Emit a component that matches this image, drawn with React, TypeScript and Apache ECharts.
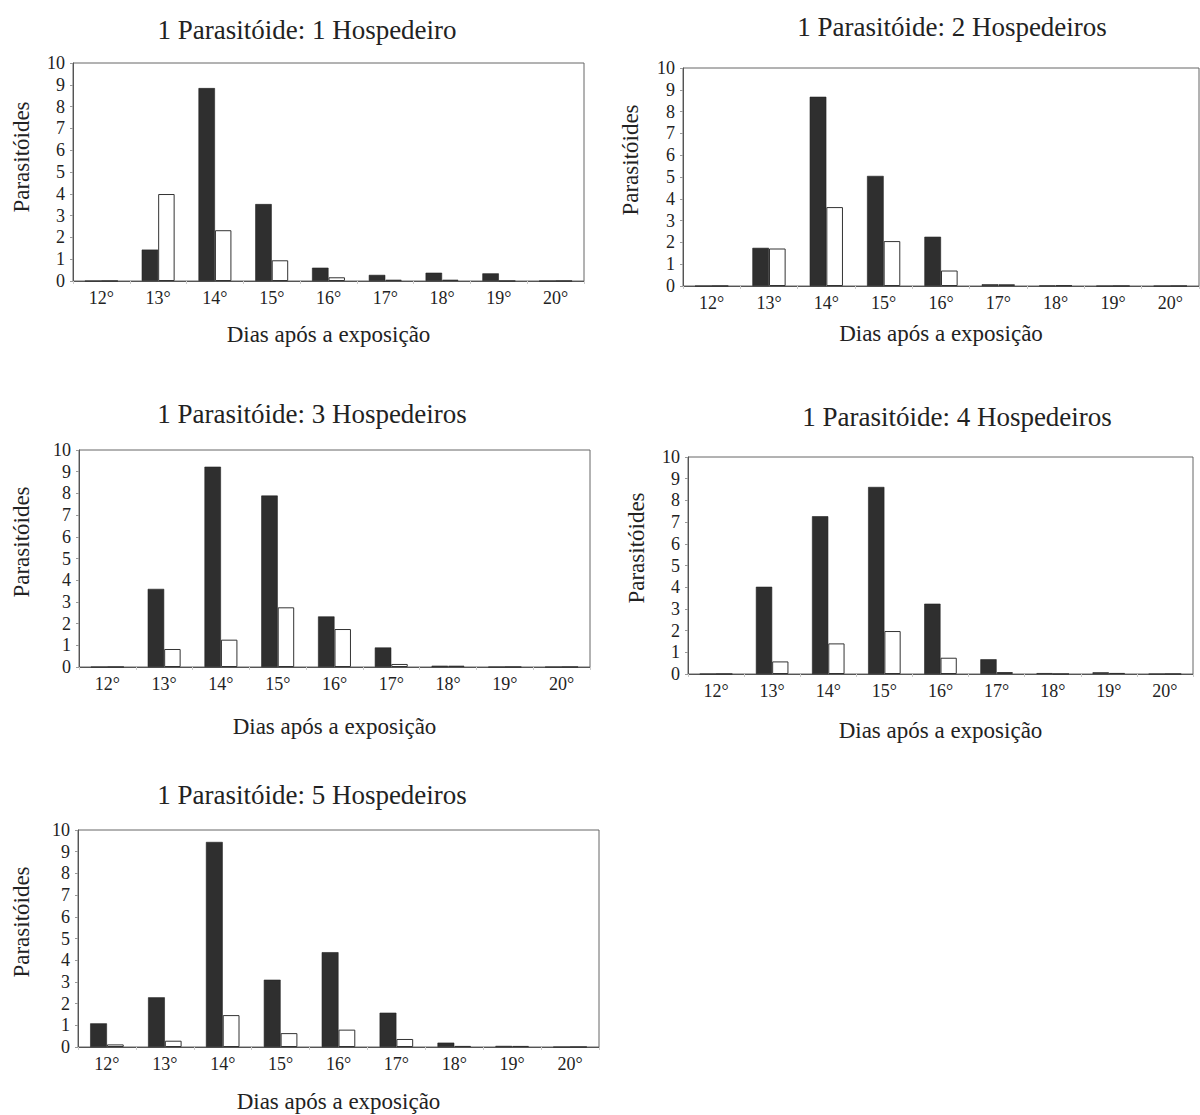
import React, { useEffect, useRef } from "react";
import * as echarts from "echarts";

const categories = ["12°", "13°", "14°", "15°", "16°", "17°", "18°", "19°", "20°"];
const yTicks = [0, 10];

const titles = [
  "1 Parasitóide: 1 Hospedeiro",
  "1 Parasitóide: 2 Hospedeiros",
  "1 Parasitóide: 3 Hospedeiros",
  "1 Parasitóide: 4 Hospedeiros",
  "1 Parasitóide: 5 Hospedeiros",
];
const xAxisTitle = "Dias após a exposição";
const yAxisTitle = "Parasitóides";

const p1Black = [0, 1.44, 8.85, 3.53, 0.61, 0.28, 0.38, 0.35, 0];
const p1White = [0, 3.99, 2.33, 0.95, 0.17, 0.06, 0.06, 0, 0];
const p2Black = [0, 1.75, 8.68, 5.05, 2.26, 0.08, 0.02, 0, 0];
const p2White = [0, 1.72, 3.62, 2.06, 0.71, 0.08, 0.03, 0, 0];
const p3Black = [0, 3.6, 9.23, 7.9, 2.33, 0.9, 0.06, 0, 0];
const p3White = [0, 0.83, 1.26, 2.75, 1.75, 0.14, 0.06, 0, 0];
const p4Black = [0, 4.02, 7.27, 8.62, 3.24, 0.68, 0.04, 0.08, 0];
const p4White = [0, 0.58, 1.41, 1.98, 0.75, 0.09, 0, 0.05, 0];
const p5Black = [1.09, 2.29, 9.45, 3.1, 4.37, 1.58, 0.2, 0.05, 0];
const p5White = [0.12, 0.29, 1.47, 0.64, 0.8, 0.37, 0.05, 0.05, 0];

const blackSeries = [p1Black, p2Black, p3Black, p4Black, p5Black];
const whiteSeries = [p1White, p2White, p3White, p4White, p5White];

// layout (pixels)
const panels = [
  { left: 73, top: 63, width: 511, height: 218, titleX: 307, titleY: 30, yNameX: 21, yNameY: 157, nameGap: 42 },
  { left: 683, top: 68, width: 516, height: 218, titleX: 952, titleY: 27, yNameX: 630, yNameY: 160, nameGap: 36 },
  { left: 79, top: 450, width: 511, height: 217, titleX: 312, titleY: 414, yNameX: 21, yNameY: 542, nameGap: 48 },
  { left: 688, top: 457, width: 505, height: 217, titleX: 957, titleY: 417, yNameX: 636, yNameY: 548, nameGap: 45 },
  { left: 78, top: 830, width: 521, height: 217, titleX: 312, titleY: 795, yNameX: 21, yNameY: 922, nameGap: 43 },
];

const FONT = "Liberation Serif";
const TEXT = "#222";

const tickRich = {
  t: { fontFamily: FONT, fontSize: 18, color: TEXT },
};

export default function App() {
  const ref = useRef<HTMLDivElement>(null);
  useEffect(() => {
    document.body.style.margin = "0";
    if (!ref.current) return;
    const chart = echarts.init(ref.current, null, { renderer: "svg" });

    const grid: any[] = [];
    const xAxis: any[] = [];
    const yAxis: any[] = [];
    const series: any[] = [];
    const graphic: any[] = [];

    panels.forEach((p, i) => {
      grid.push({
        left: p.left,
        top: p.top,
        width: p.width,
        height: p.height,
        show: true,
        borderColor: "#666",
        borderWidth: 1,
        containLabel: false,
      });
      xAxis.push({
        type: "category",
        gridIndex: i,
        data: categories,
        boundaryGap: true,
        name: xAxisTitle,
        nameLocation: "middle",
        nameGap: p.nameGap,
        nameTextStyle: { fontFamily: FONT, fontSize: 23, color: TEXT },
        axisLine: { show: true, lineStyle: { color: "#555", width: 1 } },
        axisTick: { show: true, length: 3, interval: 0, lineStyle: { color: "#ccc" } },
        axisLabel: {
          interval: 0,
          hideOverlap: false,
          fontFamily: FONT,
          fontSize: 18,
          color: TEXT,
          margin: 8,
          formatter: (v: string) => "{t|" + v + "}",
          rich: tickRich,
        },
        splitLine: { show: false },
      });
      yAxis.push({
        type: "value",
        gridIndex: i,
        min: yTicks[0],
        max: yTicks[1],
        interval: 1,
        axisLine: { show: true, lineStyle: { color: "#555", width: 1 } },
        axisTick: { show: true, length: 3, lineStyle: { color: "#999" } },
        axisLabel: {
          fontFamily: FONT,
          fontSize: 18,
          color: TEXT,
          margin: 8,
          formatter: (v: number) => "{t|" + v + "}",
          rich: tickRich,
        },
        splitLine: { show: false },
      });
      series.push({
        type: "bar",
        xAxisIndex: i,
        yAxisIndex: i,
        data: blackSeries[i],
        barWidth: "29%",
        barGap: "0%",
        itemStyle: { color: "#2f2f2f", borderColor: "#222", borderWidth: 0.6 },
      });
      series.push({
        type: "bar",
        xAxisIndex: i,
        yAxisIndex: i,
        data: whiteSeries[i],
        barWidth: "29%",
        barGap: "0%",
        itemStyle: { color: "#ffffff", borderColor: "#333", borderWidth: 1 },
      });
      graphic.push({
        type: "text",
        x: p.titleX,
        y: p.titleY,
        style: {
          text: titles[i],
          fontFamily: FONT,
          fontSize: 27,
          fill: TEXT,
          textAlign: "center",
          textVerticalAlign: "middle",
        },
      });
      graphic.push({
        type: "text",
        x: p.yNameX,
        y: p.yNameY,
        rotation: Math.PI / 2,
        style: {
          text: yAxisTitle,
          fontFamily: FONT,
          fontSize: 23,
          fill: TEXT,
          textAlign: "center",
          textVerticalAlign: "middle",
        },
      });
    });

    chart.setOption({
      animation: false,
      backgroundColor: "#ffffff",
      textStyle: { fontFamily: FONT, color: TEXT },
      grid,
      xAxis,
      yAxis,
      series,
      graphic,
    });
    return () => chart.dispose();
  }, []);
  return <div ref={ref} style={{ width: 1200, height: 1115 }} />;
}
